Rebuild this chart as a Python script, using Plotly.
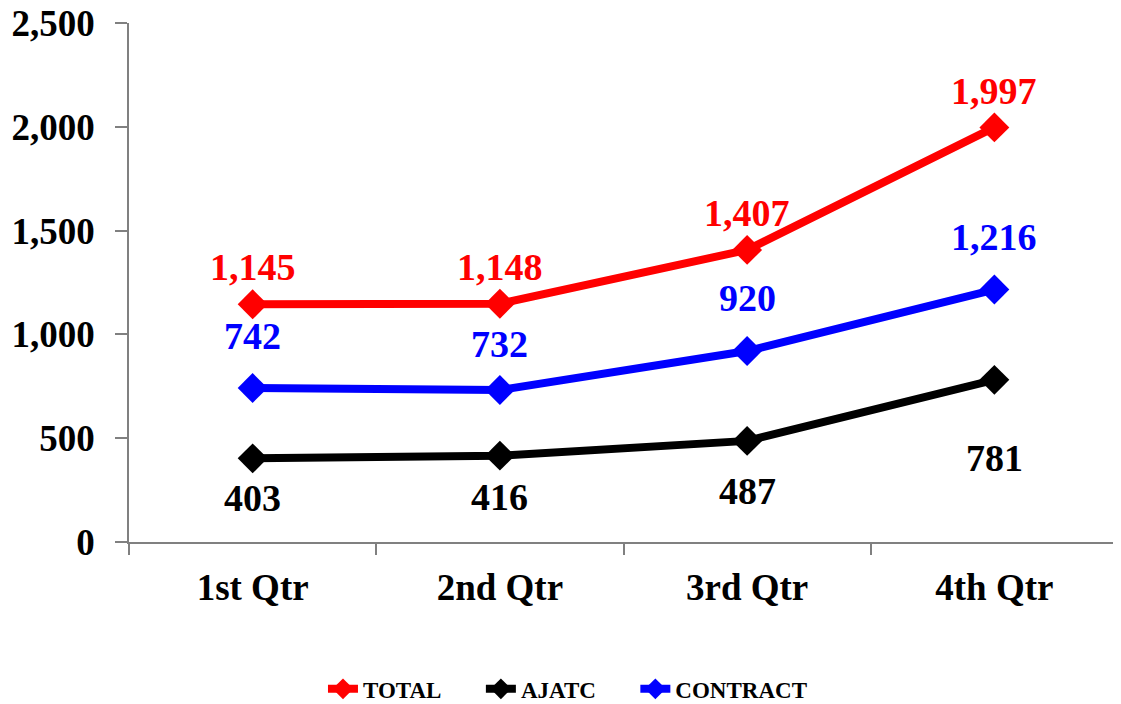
import plotly.graph_objects as go

quarters = ["1st Qtr", "2nd Qtr", "3rd Qtr", "4th Qtr"]
total = [1145, 1148, 1407, 1997]
ajatc = [403, 416, 487, 781]
contract = [742, 732, 920, 1216]

# label offsets in px (style only)
total_shift = [37, 37, 37, 36]
ajatc_shift = [-40, -41, -50, -78]
contract_shift = [52, 46, 53, 53]

FONT = "Liberation Serif"
PAD = "\u00a0" * 6

fig = go.Figure()
series = [
    ("TOTAL", total, "#ff0000", total_shift),
    ("AJATC", ajatc, "#000000", ajatc_shift),
    ("CONTRACT", contract, "#0000ff", contract_shift),
]
for name, vals, color, shifts in series:
    fig.add_trace(go.Scatter(
        x=quarters, y=vals, name=f"<b>{name}</b>{PAD}", mode="lines+markers",
        line=dict(color=color, width=8),
        marker=dict(symbol="diamond", size=23, color=color),
    ))

for name, vals, color, shifts in series:
    for q, v, s in zip(quarters, vals, shifts):
        fig.add_annotation(
            x=q, y=v, text=f"<b>{v:,}</b>", showarrow=False, yshift=s,
            yanchor="middle", xanchor="center",
            font=dict(family=FONT, size=38, color=color),
        )

# page body has an 8px margin, so the figure is drawn 8px in from the top-left
fig.update_layout(
    width=1113, height=696,
    margin=dict(l=121, r=3, t=15, b=162, autoexpand=False),
    paper_bgcolor="white", plot_bgcolor="white",
    showlegend=True,
    legend=dict(orientation="h", xref="container", x=0.283, xanchor="left",
                y=-0.283, yanchor="middle",
                font=dict(family=FONT, size=23, color="black"),
                traceorder="normal"),
    font=dict(family=FONT),
)
fig.update_xaxes(
    type="category", range=[-0.5, 3.5], automargin=False,
    showline=True, linecolor="#808080", linewidth=1.5,
    ticks="outside", tickson="boundaries", ticklen=11, tickcolor="#808080", tickwidth=1.5,
    showgrid=False, zeroline=False,
    tickfont=dict(family=FONT, size=37, color="black", weight="bold"),
    ticklabelstandoff=12, ticklabeloverflow="allow",
)
fig.update_yaxes(
    range=[0, 2500], dtick=500, tickformat=",", automargin=False,
    showline=True, linecolor="#808080", linewidth=1.5,
    ticks="outside", ticklen=12, tickcolor="#808080", tickwidth=1.5,
    showgrid=False, zeroline=False,
    tickfont=dict(family=FONT, size=37, color="black", weight="bold"),
    ticklabelstandoff=13, ticklabeloverflow="allow",
)

fig.write_html("out.html")
